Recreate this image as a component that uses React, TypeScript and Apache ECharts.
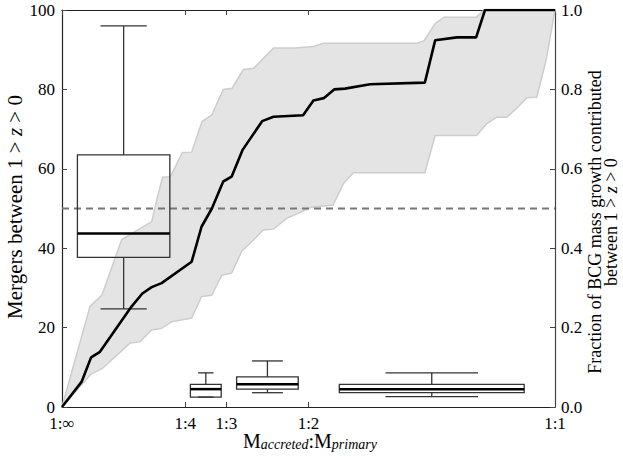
import React, { useEffect, useRef } from 'react';
import * as echarts from 'echarts';

// x axis: mass ratio M_accreted / M_primary
const ratioTicks = [0, 0.25, 1 / 3, 0.5, 1];
const ratioLabels = ['1:∞', '1:4', '1:3', '1:2', '1:1'];

// cumulative fraction of BCG mass growth (right axis)
const lineX = [0, 0.04, 0.059, 0.077, 0.141, 0.163, 0.182, 0.202, 0.263, 0.283, 0.304, 0.327, 0.344, 0.366, 0.406, 0.429, 0.489, 0.51, 0.531, 0.552, 0.574, 0.625, 0.736, 0.757, 0.801, 0.84, 0.858, 1.0];
const lineY = [0, 0.064, 0.125, 0.139, 0.253, 0.286, 0.302, 0.312, 0.366, 0.454, 0.5, 0.568, 0.58, 0.647, 0.72, 0.731, 0.735, 0.772, 0.778, 0.8, 0.802, 0.813, 0.817, 0.924, 0.931, 0.931, 1.0, 1.0];

// shaded range (right axis)
const upperX = [0, 0.057, 0.081, 0.121, 0.148, 0.182, 0.192, 0.204, 0.22, 0.244, 0.263, 0.284, 0.304, 0.327, 0.345, 0.368, 0.389, 0.429, 0.473, 0.51, 0.53, 0.719, 0.734, 0.757, 0.775, 0.841, 0.856, 1.0];
const upperY = [0, 0.254, 0.282, 0.421, 0.442, 0.467, 0.521, 0.579, 0.58, 0.641, 0.642, 0.719, 0.736, 0.8, 0.803, 0.85, 0.853, 0.904, 0.904, 0.908, 0.916, 0.916, 0.922, 0.966, 0.982, 0.982, 1.0, 1.0];
const lowerX = [0, 0.059, 0.082, 0.138, 0.158, 0.182, 0.202, 0.223, 0.263, 0.283, 0.304, 0.324, 0.344, 0.365, 0.391, 0.408, 0.429, 0.456, 0.506, 0.55, 0.571, 0.591, 0.736, 0.757, 0.841, 0.861, 0.882, 0.902, 0.922, 0.943, 0.963, 0.982, 1.0];
const lowerY = [0, 0.083, 0.097, 0.161, 0.164, 0.194, 0.198, 0.215, 0.224, 0.278, 0.282, 0.332, 0.337, 0.393, 0.424, 0.446, 0.448, 0.475, 0.503, 0.509, 0.563, 0.59, 0.59, 0.684, 0.684, 0.713, 0.73, 0.73, 0.752, 0.779, 0.78, 0.874, 1.0];

// merger-count box plots (left axis), one per ratio bin
const boxCenters = [0.125, 0.2917, 0.4167, 0.75];
const boxWidths = [0.1875, 0.0625, 0.125, 0.375];
const boxMin = [24.7, 2.5, 3.6, 2.6];
const boxQ1 = [37.7, 2.5, 4.5, 3.6];
const boxMedian = [43.7, 4.5, 5.7, 4.5];
const boxQ3 = [63.5, 5.7, 7.6, 5.7];
const boxMax = [96, 8.6, 11.6, 8.6];

const halfLevel = 50;

const FONT = 'Liberation Serif, serif';

function labelFor(v: number): string {
  for (let i = 0; i < ratioTicks.length; i++) {
    if (Math.abs(ratioTicks[i] - v) < 1e-6) return ratioLabels[i];
  }
  return '';
}

export default function App() {
  const ref = useRef<HTMLDivElement>(null);
  useEffect(() => {
    if (!ref.current) return;
    const chart = echarts.init(ref.current, null, { renderer: 'svg' });
    const boxData = boxCenters.map((c, i) => [c, boxWidths[i], boxMin[i], boxQ1[i], boxMedian[i], boxQ3[i], boxMax[i]]);
    const axisLabelStyle = { fontFamily: FONT, fontSize: 17, color: '#000' };
    const option: any = {
      animation: false,
      textStyle: { fontFamily: FONT },
      grid: { left: 62, right: 68, top: 10, bottom: 53, containLabel: false },
      xAxis: [
        {
          type: 'value', min: 0, max: 1, position: 'bottom',
          axisLine: { show: true, onZero: false, lineStyle: { color: '#222', width: 1.2 } },
          axisTick: { show: true, inside: true, length: 5, customValues: ratioTicks, lineStyle: { color: '#444' } },
          axisLabel: { ...axisLabelStyle, margin: 8, customValues: ratioTicks, formatter: (v: number) => labelFor(v) },
          splitLine: { show: false },
        },
        {
          type: 'value', min: 0, max: 1, position: 'top',
          axisLine: { show: true, onZero: false, lineStyle: { color: '#222', width: 1.2 } },
          axisTick: { show: true, inside: true, length: 5, customValues: ratioTicks, lineStyle: { color: '#444' } },
          axisLabel: { show: false },
          splitLine: { show: false },
        },
      ],
      yAxis: [
        {
          type: 'value', min: 0, max: 100, interval: 20, position: 'left',
          axisLine: { show: true, onZero: false, lineStyle: { color: '#222', width: 1.2 } },
          axisTick: { show: true, inside: true, length: 5, lineStyle: { color: '#444' } },
          axisLabel: { ...axisLabelStyle, margin: 7 },
          splitLine: { show: false },
        },
        {
          type: 'value', min: 0, max: 1, interval: 0.2, position: 'right',
          axisLine: { show: true, onZero: false, lineStyle: { color: '#444', width: 1.2 } },
          axisTick: { show: true, inside: true, length: 5, lineStyle: { color: '#444' } },
          axisLabel: { ...axisLabelStyle, margin: 6, formatter: (v: number) => v.toFixed(1) },
          splitLine: { show: false },
        },
      ],
      series: [
        {
          type: 'custom', name: 'range', xAxisIndex: 0, yAxisIndex: 1, z: 1,
          data: [[0, 0]],
          silent: true,
          renderItem: (_params: any, api: any) => {
            const up = upperX.map((x, i) => api.coord([x, upperY[i]]));
            const lo = lowerX.map((x, i) => api.coord([x, lowerY[i]])).reverse();
            return {
              type: 'polygon',
              shape: { points: up.concat(lo) },
              style: { fill: '#e4e4e4', stroke: '#cdcdcd', lineWidth: 1.5 },
            };
          },
        },
        {
          type: 'line', name: 'half', xAxisIndex: 0, yAxisIndex: 0, z: 2,
          data: [[0, halfLevel], [1, halfLevel]],
          symbol: 'none',
          lineStyle: { color: '#777', width: 2, type: [7, 5] },
        },
        {
          type: 'custom', name: 'boxes', xAxisIndex: 0, yAxisIndex: 0, z: 3,
          data: boxData,
          encode: { x: 0, y: [2, 3, 4, 5, 6] },
          renderItem: (_params: any, api: any) => {
            const c = api.value(0), w = api.value(1);
            const mn = api.value(2), q1 = api.value(3), md = api.value(4), q3 = api.value(5), mx = api.value(6);
            const tl = api.coord([c - w / 2, q3]);
            const br = api.coord([c + w / 2, q1]);
            const cTop = api.coord([c, q3]);
            const cMax = api.coord([c, mx]);
            const cBot = api.coord([c, q1]);
            const cMin = api.coord([c, mn]);
            const capL = api.coord([c - w / 4, mx])[0];
            const capR = api.coord([c + w / 4, mx])[0];
            const mL = api.coord([c - w / 2, md]);
            const mR = api.coord([c + w / 2, md]);
            const ls = { stroke: '#333', lineWidth: 1.3, fill: null };
            return {
              type: 'group',
              children: [
                { type: 'line', shape: { x1: cTop[0], y1: cTop[1], x2: cMax[0], y2: cMax[1] }, style: ls },
                { type: 'line', shape: { x1: cBot[0], y1: cBot[1], x2: cMin[0], y2: cMin[1] }, style: ls },
                { type: 'line', shape: { x1: capL, y1: cMax[1], x2: capR, y2: cMax[1] }, style: ls },
                { type: 'line', shape: { x1: capL, y1: cMin[1], x2: capR, y2: cMin[1] }, style: ls },
                { type: 'rect', shape: { x: tl[0], y: tl[1], width: br[0] - tl[0], height: br[1] - tl[1] }, style: { stroke: '#333', lineWidth: 1.3, fill: 'none' } },
                { type: 'line', shape: { x1: mL[0], y1: mL[1], x2: mR[0], y2: mR[1] }, style: { stroke: '#000', lineWidth: 2.5 } },
              ],
            };
          },
        },
        {
          type: 'line', name: 'fraction', xAxisIndex: 0, yAxisIndex: 1, z: 4,
          data: lineX.map((x, i) => [x, lineY[i]]),
          symbol: 'none',
          lineStyle: { color: '#000', width: 2.6 },
        },
      ],
      graphic: [
        {
          type: 'text', x: 15, y: 207, rotation: Math.PI / 2,
          style: {
            text: '{a|Mergers between 1 > }{i|z}{a| > 0}',
            align: 'center', verticalAlign: 'middle',
            rich: {
              a: { fontFamily: FONT, fontSize: 21, fill: '#000' },
              i: { fontFamily: FONT, fontSize: 21, fontStyle: 'italic', fill: '#000' },
            },
          },
        },
        {
          type: 'text', x: 595, y: 222, rotation: Math.PI / 2,
          style: {
            text: 'Fraction of BCG mass growth contributed',
            align: 'center', verticalAlign: 'middle',
            fontFamily: FONT, fontSize: 18, fill: '#000',
          },
        },
        {
          type: 'text', x: 611, y: 222, rotation: Math.PI / 2,
          style: {
            text: '{a|between 1 > }{i|z}{a| > 0}',
            align: 'center', verticalAlign: 'middle',
            rich: {
              a: { fontFamily: FONT, fontSize: 18, fill: '#000' },
              i: { fontFamily: FONT, fontSize: 18, fontStyle: 'italic', fill: '#000' },
            },
          },
        },
        {
          type: 'text', x: 310, y: 441,
          style: {
            text: '{m|M}{s|accreted}{m|:M}{s|primary}',
            align: 'center', verticalAlign: 'middle',
            rich: {
              m: { fontFamily: FONT, fontSize: 20, fill: '#000', lineHeight: 20, verticalAlign: 'top' },
              s: { fontFamily: FONT, fontSize: 14, fontStyle: 'italic', fill: '#000', lineHeight: 14, verticalAlign: 'bottom' },
            },
          },
        },
      ],
    };
    chart.setOption(option);
    return () => chart.dispose();
  }, []);
  return <div ref={ref} style={{ width: 623, height: 460, position: 'absolute', left: 0, top: 0 }} />;
}
